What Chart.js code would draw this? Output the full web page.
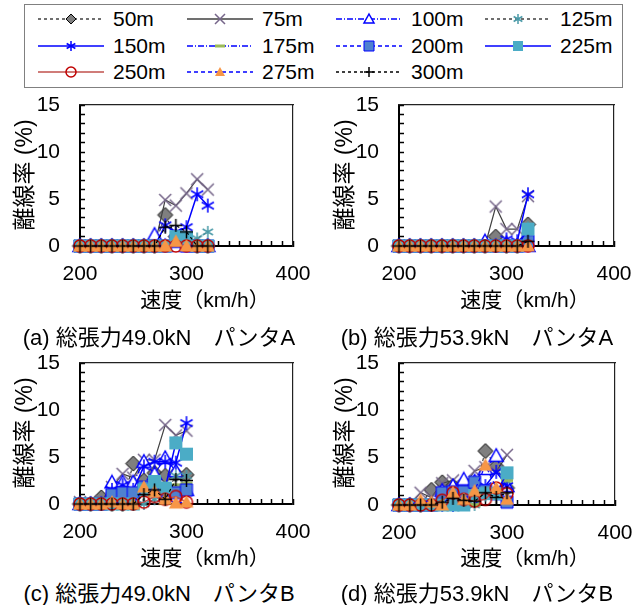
<!DOCTYPE html>
<html>
<head>
<meta charset="utf-8">
<script src="https://cdn.jsdelivr.net/npm/chart.js@4.4.0/dist/chart.umd.min.js"></script>
<style>
body { margin: 0; background: #fff; width: 633px; height: 605px; position: relative; overflow: hidden;
       font-family: "Liberation Sans", "Noto Sans CJK JP", sans-serif; color: #000; }
canvas.panel { position: absolute; }
.ytitle { position: absolute; font-size: 23px; white-space: nowrap; transform: translate(-50%, -50%) rotate(-90deg); }
.xtitle { position: absolute; font-size: 21px; white-space: nowrap; transform: translate(-50%, -50%); }
.caption { position: absolute; font-size: 22px; white-space: nowrap; transform: translate(-50%, -50%); }
#legend { position: absolute; left: 24px; top: 4px; width: 597px; height: 82px; border: 1px solid #808080; }
.item { position: absolute; height: 22px; }
.item canvas { position: absolute; left: 0; top: 0; }
.item span { position: absolute; left: 75px; top: -1px; font-size: 21px; line-height: 24px; white-space: nowrap; }
</style>
</head>
<body>
<div id="legend"></div>

<canvas class="panel" id="chartA" width="313" height="201" style="left:0px;top:90px"></canvas>
<canvas class="panel" id="chartB" width="315" height="201" style="left:319px;top:90px"></canvas>
<canvas class="panel" id="chartC" width="313" height="201" style="left:0px;top:348px"></canvas>
<canvas class="panel" id="chartD" width="316" height="202" style="left:319px;top:348px"></canvas>

<div class="ytitle" style="left:22px;top:175px">離線率 (%)</div>
<div class="ytitle" style="left:342px;top:175px">離線率 (%)</div>
<div class="ytitle" style="left:22px;top:433px">離線率 (%)</div>
<div class="ytitle" style="left:342px;top:433px">離線率 (%)</div>

<div class="xtitle" style="left:205px;top:298px">速度（km/h）</div>
<div class="xtitle" style="left:525px;top:298px">速度（km/h）</div>
<div class="xtitle" style="left:205px;top:556px">速度（km/h）</div>
<div class="xtitle" style="left:525px;top:556px">速度（km/h）</div>

<div class="caption" style="left:159px;top:335px">(a) 総張力49.0kN　パンタA</div>
<div class="caption" style="left:477px;top:335px">(b) 総張力53.9kN　パンタA</div>
<div class="caption" style="left:159px;top:591px">(c) 総張力49.0kN　パンタB</div>
<div class="caption" style="left:477px;top:591px">(d) 総張力53.9kN　パンタB</div>

<script>
// speeds (km/h)
var speedsTop = [200, 210, 220, 230, 240, 250, 260, 270, 280, 290, 300, 310, 320];
var speedsBottom = [200, 210, 220, 230, 240, 250, 260, 270, 280, 290, 300];

var seriesNames = ['50m', '75m', '100m', '125m', '150m', '175m', '200m', '225m', '250m', '275m', '300m'];

// (a) 49.0kN pantograph A
var rateA = [
    [0, 0, 0, 0, 0, 0, 0, 0, 3.3, 1.0, 0.5, 0, 0],
    [0, 0, 0, 0, 0, 0, 0, 0, 4.9, 4.3, 5.6, 7.1, 6.0],
    [0, 0, 0, 0, 0, 0, 0, 1.2, 0, 0.5, 0, 0, 0],
    [0, 0, 0, 0, 0, 0, 0, 0, 0, 0.5, 0.5, 0.8, 1.5],
    [0, 0, 0, 0, 0, 0, 0, 0, 2.2, 1.5, 2.0, 5.5, 4.3],
    [0, 0, 0, 0, 0, 0, 0, 0, 0, 0.3, 0, 0, 0],
    [0, 0, 0, 0, 0, 0, 0, 0, 0, 0.5, 0, 0, 0],
    [0, 0, 0, 0, 0, 0, 0, 0, 0, 1.0, 0.9, 0, 0],
    [0, 0, 0, 0, 0, 0, 0, 0, 0, 0, 0, 0, 0],
    [0, 0, 0, 0, 0, 0, 0, 0, 0, 0.5, 0, 0, 0],
    [0, 0, 0, 0, 0, 0, 0, 0, 2.0, 2.2, 1.5, 0, 0]
];

// (b) 53.9kN pantograph A
var rateB = [
    [0, 0, 0, 0, 0, 0, 0, 0, 0, 1.0, 0, 0, 2.3],
    [0, 0, 0, 0, 0, 0, 0, 0, 0, 4.2, 1.8, 1.8, 5.3],
    [0, 0, 0, 0, 0, 0, 0, 0, 0.5, 0, 0.3, 0, 0],
    [0, 0, 0, 0, 0, 0, 0, 0, 0, 0, 0, 0, 2.0],
    [0, 0, 0, 0, 0, 0, 0, 0, 0, 0, 0.7, 0.5, 5.5],
    [0, 0, 0, 0, 0, 0, 0, 0, 0, 0, 0, 0, 0],
    [0, 0, 0, 0, 0, 0, 0, 0, 0, 0, 0, 0, 0.5],
    [0, 0, 0, 0, 0, 0, 0, 0, 0, 0, 0, 0, 1.8],
    [0, 0, 0, 0, 0, 0, 0, 0, 0, 0, 0, 0, 0],
    [0, 0, 0, 0, 0, 0, 0, 0, 0, 0, 0, 0, 0],
    [0, 0, 0, 0, 0, 0, 0, 0, 0, 0, 0, 0, 0.5]
];

// (c) 49.0kN pantograph B
var rateC = [
    [0, 0, 0.7, 0, 0, 4.3, 2.5, 3.3, 3.0, 3.2, 3.1],
    [0.2, 0, 0.3, 1.8, 3.2, 2.8, 4.7, 4.7, 8.4, 7.3, 7.8],
    [0, 0, 0, 2.3, 2.3, 2.3, 4.5, 3.2, 4.9, 3.5, 1.5],
    [0, 0, 0, 0, 0, 0, 0, 0.5, 1.0, 3.0, 3.0],
    [0, 0, 0, 1.5, 2.0, 1.5, 4.0, 4.5, 4.5, 4.4, 8.6],
    [0, 0, 0, 0, 0, 0, 1.8, 2.4, 1.8, 2.0, 2.2],
    [0, 0, 0, 1.0, 1.2, 1.2, 1.8, 1.8, 1.5, 1.2, 1.5],
    [0, 0, 0, 0, 0, 0, 1.5, 2.4, 1.7, 6.5, 5.3],
    [0, 0, 0, 0, 0, 0, 0.2, 0.8, 0.5, 0.8, 0.2],
    [0, 0, 0, 0.2, 0, 0, 1.8, 1.3, 0.5, 0.1, 0.2],
    [0, 0, 0, 0, 0, 0, 1.0, 1.5, 0.5, 2.6, 2.5]
];

// (d) 53.9kN pantograph B
var rateD = [
    [0, 0, 0, 1.6, 2.4, 2.0, 2.3, 1.5, 5.7, 4.1, 1.8],
    [0, 0, 1.3, 0.8, 2.3, 2.6, 2.0, 3.6, 4.0, 3.5, 5.3],
    [0, 0, 0, 0, 1.5, 2.0, 2.7, 2.5, 3.8, 5.2, 2.0],
    [0, 0, 0, 0, 0, 0, 0, 0, 1.0, 1.5, 2.5],
    [0, 0, 0, 0, 0, 0, 1.0, 1.0, 2.0, 3.5, 2.0],
    [0, 0, 0, 0, 0, 0, 0, 0, 1.5, 1.5, 2.6],
    [0, 0, 0, 0, 1.3, 1.4, 1.4, 2.4, 1.5, 1.2, 0.3],
    [0, 0, 0, 0, 0, 0, 0, 1.0, 1.2, 1.2, 3.4],
    [0, 0, 0, 0, 0.5, 1.3, 0.6, 0.4, 0.6, 1.8, 1.2],
    [0, 0, 0.5, 0.3, 0, 1.3, 0.6, 1.5, 4.2, 1.8, 0.6],
    [0, 0, 0, 0, 0.3, 0.7, 0.5, 0.4, 1.3, 0.8, 1.3]
];

// line + marker look per series
var seriesStyle = [
    {line: '#404040', dash: [3, 3], width: 1.2, marker: 'diamond', fill: '#7f7f7f', stroke: '#000', mw: 1, size: 15},
    {line: '#404040', dash: [], width: 1.2, marker: 'cross', fill: null, stroke: '#76668a', mw: 1.5, size: 12},
    {line: '#0000ff', dash: [6, 2, 1, 2], width: 1.2, marker: 'triangle', fill: '#fff', stroke: '#0000ff', mw: 1.5, size: 14},
    {line: '#404040', dash: [3, 3], width: 1.2, marker: 'star', fill: null, stroke: '#4a9aa8', mw: 1.5, size: 12},
    {line: '#0000ff', dash: [], width: 1.5, marker: 'star', fill: null, stroke: '#0000ff', mw: 1.5, size: 14},
    {line: '#0000ff', dash: [6, 2, 1, 2], width: 1.2, marker: 'bar', fill: '#9bbb59', stroke: null, mw: 0, size: 12},
    {line: '#0000ff', dash: [4, 3], width: 1.2, marker: 'square', fill: '#4f81d0', stroke: '#0000ff', mw: 1, size: 12},
    {line: '#0000ff', dash: [], width: 1.5, marker: 'square', fill: '#4bacc6', stroke: null, mw: 0, size: 13},
    {line: '#c0504d', dash: [], width: 1.5, marker: 'circle', fill: null, stroke: '#c00000', mw: 1.5, size: 12},
    {line: '#0000ff', dash: [4, 3], width: 1.2, marker: 'triangle', fill: '#f79646', stroke: null, mw: 0, size: 14},
    {line: '#000', dash: [3, 3], width: 1.2, marker: 'plus', fill: null, stroke: '#000', mw: 1.5, size: 13}
];

function drawMarker(g, st, m, r) {
    g.lineWidth = st.mw;
    if (st.stroke) g.strokeStyle = st.stroke;
    if (st.fill) g.fillStyle = st.fill;
    g.beginPath();
    switch (st.marker) {
        case 'diamond':
            g.moveTo(m, m - r); g.lineTo(m + r, m); g.lineTo(m, m + r); g.lineTo(m - r, m); g.closePath();
            break;
        case 'cross':
            g.moveTo(m - r, m - r); g.lineTo(m + r, m + r); g.moveTo(m + r, m - r); g.lineTo(m - r, m + r);
            break;
        case 'triangle':
            g.moveTo(m, m - r); g.lineTo(m + r, m + r * 0.8); g.lineTo(m - r, m + r * 0.8); g.closePath();
            break;
        case 'star':
            g.moveTo(m, m - r); g.lineTo(m, m + r);
            g.moveTo(m - r * 0.87, m - r * 0.5); g.lineTo(m + r * 0.87, m + r * 0.5);
            g.moveTo(m + r * 0.87, m - r * 0.5); g.lineTo(m - r * 0.87, m + r * 0.5);
            break;
        case 'bar':
            g.rect(m - r, m - r * 0.3, r * 2, r * 0.6);
            break;
        case 'square':
            g.rect(m - r, m - r, r * 2, r * 2);
            break;
        case 'circle':
            g.arc(m, m, r, 0, Math.PI * 2);
            break;
        case 'plus':
            g.moveTo(m, m - r); g.lineTo(m, m + r); g.moveTo(m - r, m); g.lineTo(m + r, m);
            break;
    }
    if (st.fill) g.fill();
    if (st.stroke) g.stroke();
}

function makeMarker(st, size) {
    var c = document.createElement('canvas');
    var d = size + 4;
    c.width = d;
    c.height = d;
    drawMarker(c.getContext('2d'), st, d / 2, size / 2);
    return c;
}

var plotMarkers = seriesStyle.map(function(st) { return makeMarker(st, st.size); });

function buildDatasets(speeds, rates) {
    return seriesNames.map(function(name, i) {
        var st = seriesStyle[i];
        return {
            label: name,
            data: speeds.map(function(s, k) { return {x: s, y: rates[i][k]}; }),
            borderColor: st.line,
            borderWidth: st.width,
            borderDash: st.dash,
            pointStyle: plotMarkers[i],
            pointRadius: 5,
            pointHoverRadius: 5,
            tension: 0,
            fill: false,
            clip: false,
            order: seriesNames.length - i
        };
    });
}

function makeChart(id, speeds, rates) {
    var tickFont = {family: 'Liberation Sans', size: 21};
    return new Chart(document.getElementById(id), {
        type: 'line',
        data: {datasets: buildDatasets(speeds, rates)},
        options: {
            responsive: false,
            animation: false,
            events: [],
            layout: {padding: {top: 15, right: 20, left: 0, bottom: 0}},
            plugins: {legend: {display: false}, tooltip: {enabled: false}},
            scales: {
                // inward ticks: negative tick length, labels only on the major values
                x: {
                    type: 'linear', min: 200, max: 400,
                    ticks: {
                        stepSize: 10, autoSkip: false, color: '#000', font: tickFont, padding: 21, maxRotation: 0,
                        callback: function(v) { return v % 100 === 0 ? String(v) : ''; }
                    },
                    grid: {display: true, drawOnChartArea: false, drawTicks: true, tickLength: -5, tickColor: '#000', tickWidth: 1.5},
                    border: {color: '#000', width: 2},
                    afterFit: function(s) {
                        s.height = 45;
                        s.paddingLeft = 0;
                        s.paddingRight = 0;
                    }
                },
                y: {
                    min: 0, max: 15,
                    ticks: {
                        stepSize: 1, autoSkip: false, color: '#000', font: tickFont, padding: 25,
                        callback: function(v) { return v % 5 === 0 ? String(v) : ''; }
                    },
                    grid: {display: true, drawOnChartArea: false, drawTicks: true, tickLength: -5, tickColor: '#000', tickWidth: 1.5},
                    border: {color: '#000', width: 2},
                    afterFit: function(s) {
                        s.width = 80;
                        s.paddingTop = 0;
                        s.paddingBottom = 0;
                    }
                },
                // thin frame on top and right
                xTop: {
                    type: 'linear', position: 'top', min: 200, max: 400, display: true,
                    ticks: {display: false}, grid: {display: false, drawTicks: false},
                    border: {color: '#222', width: 1.2},
                    afterFit: function(s) { s.height = 0; }
                },
                yRight: {
                    type: 'linear', position: 'right', min: 0, max: 15, display: true,
                    ticks: {display: false}, grid: {display: false, drawTicks: false},
                    border: {color: '#222', width: 1.2},
                    afterFit: function(s) { s.width = 0; }
                }
            }
        }
    });
}

makeChart('chartA', speedsTop, rateA);
makeChart('chartB', speedsTop, rateB);
makeChart('chartC', speedsBottom, rateC);
makeChart('chartD', speedsBottom, rateD);

// legend
var legendCols = [13, 162, 311, 460];
var legendRows = [3, 30, 56];
var legendBox = document.getElementById('legend');
seriesNames.forEach(function(name, i) {
    var st = seriesStyle[i];
    var item = document.createElement('div');
    item.className = 'item';
    item.style.left = legendCols[i % 4] + 'px';
    item.style.top = legendRows[Math.floor(i / 4)] + 'px';
    var c = document.createElement('canvas');
    c.width = 66;
    c.height = 22;
    var g = c.getContext('2d');
    g.strokeStyle = st.line;
    g.lineWidth = 1.5;
    g.setLineDash(st.dash);
    g.beginPath();
    g.moveTo(0, 11);
    g.lineTo(66, 11);
    g.stroke();
    g.setLineDash([]);
    g.save();
    g.translate(33 - 5, 11 - 5);
    drawMarker(g, st, 5, Math.min(st.size, 11) / 2 - 0.5);
    g.restore();
    var sp = document.createElement('span');
    sp.textContent = name;
    item.appendChild(c);
    item.appendChild(sp);
    legendBox.appendChild(item);
});
</script>
</body>
</html>
